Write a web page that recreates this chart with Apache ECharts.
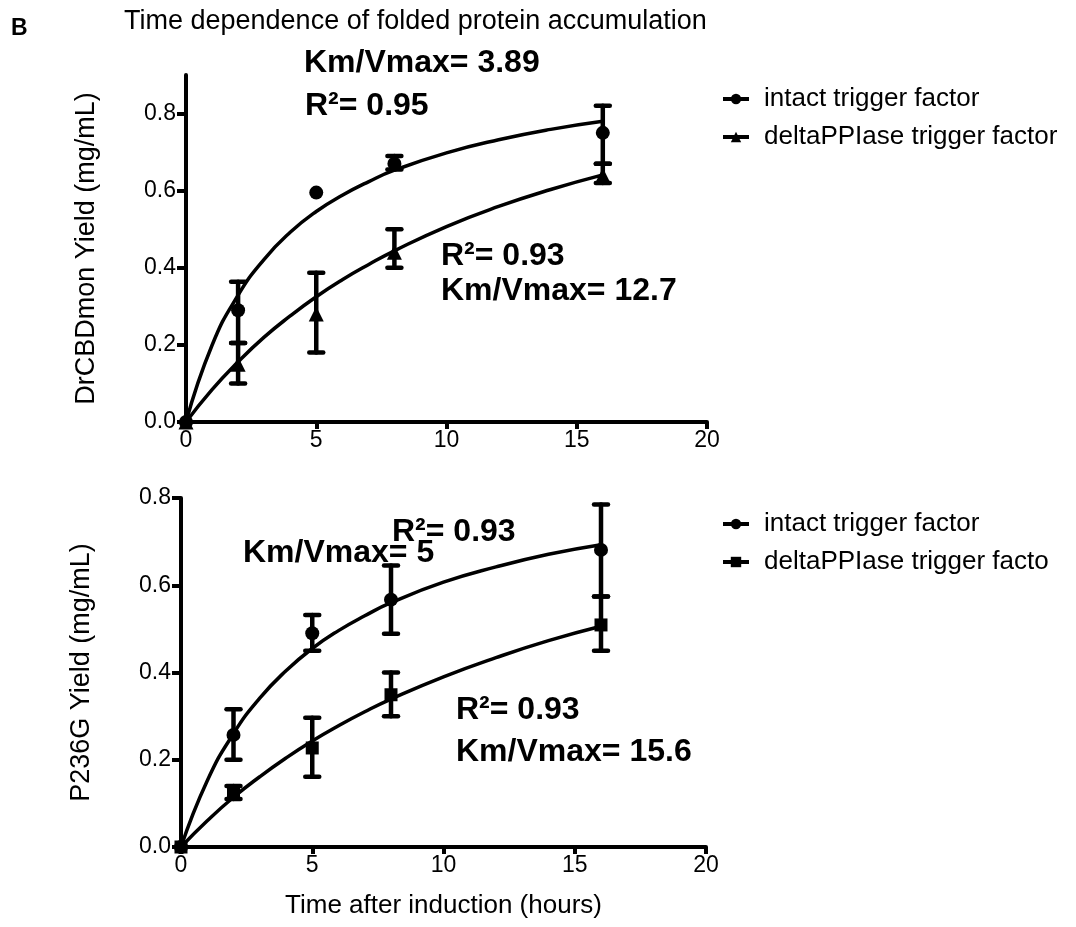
<!DOCTYPE html>
<html>
<head>
<meta charset="utf-8">
<script src="https://cdn.jsdelivr.net/npm/echarts@6/dist/echarts.min.js"></script>
<style>
  html, body { margin: 0; padding: 0; background: #fff; }
  #main { width: 1076px; height: 927px; }
</style>
</head>
<body>
<div id="main"></div>
<script>
// sampling times (hours)
var times = [0, 2, 5, 8, 16];
var yTicks = [0, 0.2, 0.4, 0.6, 0.8];

// top panel: DrCBDmon
var topIntact = [0, 0.29, 0.595, 0.67, 0.75];
var topIntactErr = [[2, 0.205, 0.364], [8, 0.655, 0.69], [16, 0.67, 0.82]];
var topDelta = [0, 0.15, 0.28, 0.44, 0.64];
var topDeltaErr = [[2, 0.10, 0.205], [5, 0.18, 0.387], [8, 0.40, 0.50], [16, 0.62, 0.67]];

// bottom panel: P236G
var botIntact = [0, 0.257, 0.49, 0.567, 0.681];
var botIntactErr = [[2, 0.20, 0.316], [5, 0.45, 0.532], [8, 0.489, 0.645], [16, 0.574, 0.785]];
var botDelta = [0, 0.126, 0.227, 0.349, 0.509];
var botDeltaErr = [[2, 0.11, 0.14], [5, 0.161, 0.296], [8, 0.30, 0.40], [16, 0.45, 0.574]];

// fitted curves
var fitX = [0, 1, 2, 3, 4, 5, 6, 7, 8, 10, 12, 14, 16];
var topIntactFit = [0, 0.199, 0.329, 0.422, 0.492, 0.546, 0.588, 0.623, 0.653, 0.698, 0.732, 0.759, 0.780];
var topDeltaFit = [0, 0.084, 0.156, 0.220, 0.275, 0.325, 0.369, 0.408, 0.444, 0.507, 0.559, 0.603, 0.641];
var botIntactFit = [0, 0.152, 0.260, 0.341, 0.404, 0.455, 0.496, 0.530, 0.560, 0.607, 0.642, 0.671, 0.693];
var botDeltaFit = [0, 0.060, 0.114, 0.161, 0.204, 0.243, 0.278, 0.310, 0.339, 0.390, 0.434, 0.473, 0.506];

var font = 'Arial, "Liberation Sans", sans-serif';

function pairs(xs, ys) {
  return xs.map(function (x, i) { return [x, ys[i]]; });
}

function errBars(data, idx) {
  return {
    type: 'custom',
    xAxisIndex: idx, yAxisIndex: idx,
    silent: true,
    encode: { x: 0, y: [1, 2] },
    data: data,
    z: 3,
    renderItem: function (params, api) {
      var lo = api.coord([api.value(0), api.value(1)]);
      var hi = api.coord([api.value(0), api.value(2)]);
      var w = 7;
      var st = { stroke: '#000', lineWidth: 4.5, lineCap: 'round' };
      return {
        type: 'group',
        children: [
          { type: 'line', shape: { x1: lo[0], y1: lo[1], x2: hi[0], y2: hi[1] }, style: st },
          { type: 'line', shape: { x1: lo[0] - w, y1: lo[1], x2: lo[0] + w, y2: lo[1] }, style: st },
          { type: 'line', shape: { x1: hi[0] - w, y1: hi[1], x2: hi[0] + w, y2: hi[1] }, style: st }
        ]
      };
    }
  };
}

function fitLine(ys, idx) {
  return {
    type: 'line', xAxisIndex: idx, yAxisIndex: idx,
    data: pairs(fitX, ys), smooth: true, showSymbol: false, silent: true,
    lineStyle: { color: '#000', width: 3.5 }, z: 2
  };
}

function points(name, ys, sym, size, idx) {
  return {
    name: name, type: 'line', xAxisIndex: idx, yAxisIndex: idx,
    data: pairs(times, ys), symbol: sym, symbolSize: size, showSymbol: true,
    lineStyle: { opacity: 0, color: '#000' },
    itemStyle: { color: '#000' }, z: 4
  };
}

function xAx(idx) {
  return {
    type: 'value', gridIndex: idx, min: 0, max: 20, interval: 5,
    splitLine: { show: false },
    axisLine: { lineStyle: { color: '#000', width: 4 } },
    axisTick: { length: 7, lineStyle: { color: '#000', width: 4 } },
    axisLabel: { color: '#000', fontSize: 23, fontFamily: font, margin: 7 },
    name: idx === 1 ? 'Time after induction (hours)' : '',
    nameLocation: 'middle', nameGap: 46,
    nameTextStyle: { color: '#000', fontSize: 26, fontFamily: font }
  };
}

function yAx(idx, max, name) {
  return {
    type: 'value', gridIndex: idx, min: 0, max: max,
    splitLine: { show: false },
    axisLine: { lineStyle: { color: '#000', width: 4 } },
    axisTick: { length: 9, customValues: yTicks, lineStyle: { color: '#000', width: 4 } },
    axisLabel: {
      color: '#000', fontSize: 23, fontFamily: font, margin: 10, customValues: yTicks,
      formatter: function (v) { return v.toFixed(1); }
    },
    name: name, nameLocation: 'middle', nameGap: 86, nameRotate: 90,
    nameTextStyle: { color: '#000', fontSize: 27, fontFamily: font }
  };
}

function legendAt(top, names) {
  return {
    orient: 'vertical', left: 716, top: top, itemGap: 12,
    itemWidth: 26, itemHeight: 13,
    data: names,
    selectedMode: false,
    lineStyle: { color: '#000', width: 4, opacity: 1 },
    textStyle: { color: '#000', fontSize: 26, fontFamily: font, padding: [0, 0, 0, 10] }
  };
}

function note(text, x, y) {
  return {
    type: 'text', x: x, y: y,
    style: { text: text, fill: '#000', font: 'bold 32px ' + font, verticalAlign: 'middle' }
  };
}

var chart = echarts.init(document.getElementById('main'));
chart.setOption({
  backgroundColor: '#fff',
  animation: false,
  grid: [
    { left: 186, top: 75, width: 521, height: 347 },
    { left: 181, top: 498, width: 525, height: 349 }
  ],
  xAxis: [xAx(0), xAx(1)],
  yAxis: [yAx(0, 0.9, 'DrCBDmon Yield (mg/mL)'), yAx(1, 0.8, 'P236G Yield (mg/mL)')],
  legend: [
    legendAt(81, ['intact trigger factor', 'deltaPPIase trigger factor']),
    legendAt(506, ['intact trigger factor ', 'deltaPPIase trigger facto'])
  ],
  series: [
    fitLine(topIntactFit, 0),
    fitLine(topDeltaFit, 0),
    errBars(topIntactErr, 0),
    errBars(topDeltaErr, 0),
    points('intact trigger factor', topIntact, 'circle', 14, 0),
    points('deltaPPIase trigger factor', topDelta, 'triangle', 15, 0),
    fitLine(botIntactFit, 1),
    fitLine(botDeltaFit, 1),
    errBars(botIntactErr, 1),
    errBars(botDeltaErr, 1),
    points('intact trigger factor ', botIntact, 'circle', 14, 1),
    points('deltaPPIase trigger facto', botDelta, 'rect', 13, 1)
  ],
  graphic: [
    { type: 'text', x: 11, y: 29, style: { text: 'B', fill: '#000', font: 'bold 23px ' + font, verticalAlign: 'middle' } },
    { type: 'text', x: 124, y: 22, style: { text: 'Time dependence of folded protein accumulation', fill: '#000', font: '27px ' + font, verticalAlign: 'middle' } },
    note('Km/Vmax= 3.89', 304, 63),
    note('R\u00b2= 0.95', 305, 106),
    note('R\u00b2= 0.93', 441, 256),
    note('Km/Vmax= 12.7', 441, 291),
    note('R\u00b2= 0.93', 392, 532),
    note('Km/Vmax= 5', 243, 553),
    note('R\u00b2= 0.93', 456, 710),
    note('Km/Vmax= 15.6', 456, 752)
  ]
});
</script>
</body>
</html>
